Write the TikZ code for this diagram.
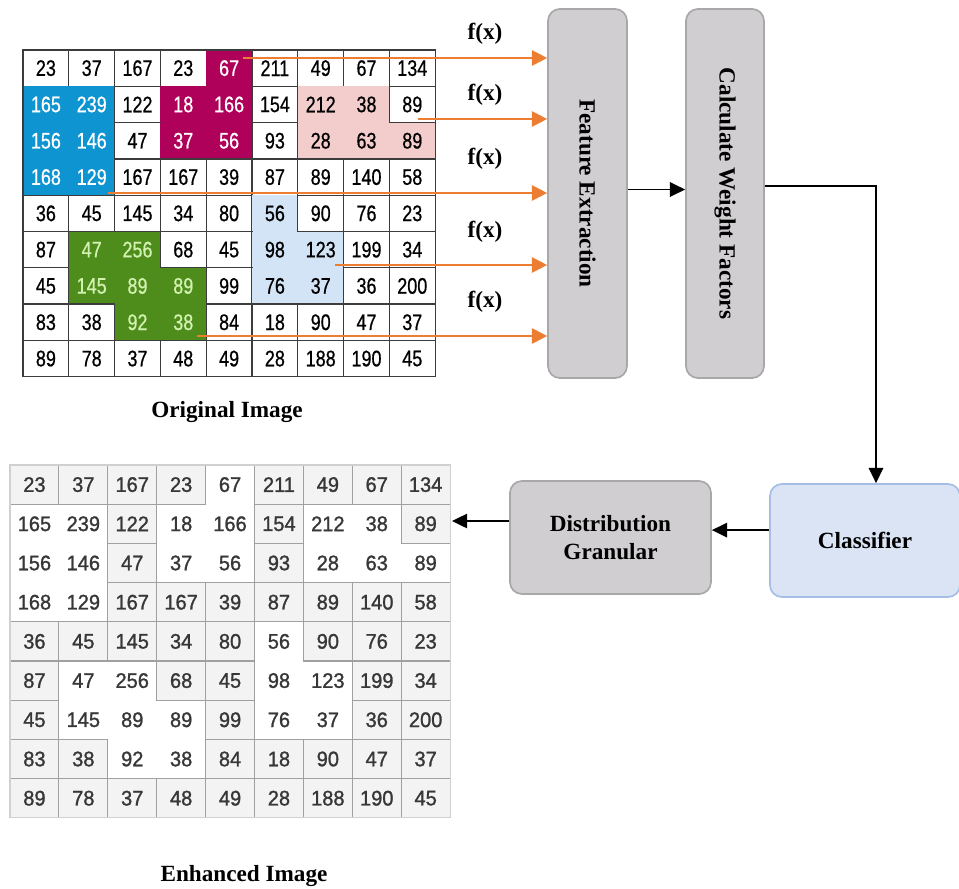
\documentclass[tikz,border=0pt]{standalone}
\usepackage{fontspec}
\setmainfont{Liberation Serif}
\newfontfamily\cellfont[FakeStretch=0.8,FakeBold=0.6]{Liberation Sans}
\newfontfamily\enhfont[FakeStretch=0.95,FakeBold=1.2]{Liberation Sans}
\usetikzlibrary{arrows.meta,calc}

\definecolor{gridline}{RGB}{60,60,60}
\definecolor{cellblue}{RGB}{14,148,208}
\definecolor{cellmag}{RGB}{175,0,90}
\definecolor{cellpink}{RGB}{243,204,204}
\definecolor{celllb}{RGB}{212,228,247}
\definecolor{cellgreen}{RGB}{78,140,28}
\definecolor{greentext}{RGB}{210,242,175}
\definecolor{enhline}{RGB}{160,160,160}
\definecolor{enhfill}{RGB}{243,243,243}
\definecolor{enhtext}{RGB}{55,55,55}
\definecolor{flow}{RGB}{237,125,49}
\definecolor{stagefill}{RGB}{208,206,208}
\definecolor{stageline}{RGB}{168,168,168}
\definecolor{clsfill}{RGB}{218,228,245}
\definecolor{clsline}{RGB}{165,190,230}

% pixel values / region code of each cell
\def\pixrows{{23/w,37/w,167/w,23/w,67/m,211/w,49/w,67/w,134/w},
{165/b,239/b,122/w,18/m,166/m,154/w,212/p,38/p,89/w},
{156/b,146/b,47/w,37/m,56/m,93/w,28/p,63/p,89/p},
{168/b,129/b,167/w,167/w,39/w,87/w,89/w,140/w,58/w},
{36/w,45/w,145/w,34/w,80/w,56/l,90/w,76/w,23/w},
{87/w,47/g,256/g,68/w,45/w,98/l,123/l,199/w,34/w},
{45/w,145/g,89/g,89/g,99/w,76/l,37/l,36/w,200/w},
{83/w,38/w,92/g,38/g,84/w,18/w,90/w,47/w,37/w},
{89/w,78/w,37/w,48/w,49/w,28/w,188/w,190/w,45/w}}

\tikzset{
	cell/.style={minimum width=1.145cm, minimum height=0.9075cm, inner sep=0pt, outer sep=0pt, font=\cellfont\fontsize{16}{16}\selectfont},
	cell w/.style={draw=gridline, line width=0.9pt},
	cell b/.style={fill=cellblue, text=white},
	cell m/.style={fill=cellmag, text=white},
	cell p/.style={fill=cellpink},
	cell l/.style={fill=celllb},
	cell g/.style={fill=cellgreen, text=greentext},
	ecell/.style={minimum width=1.2225cm, minimum height=0.98cm, inner sep=0pt, outer sep=0pt, text=enhtext, font=\enhfont\fontsize{15}{15}\selectfont},
	ecell w/.style={draw=enhline, fill=enhfill, line width=0.8pt},
	ecell b/.style={}, ecell m/.style={}, ecell p/.style={}, ecell l/.style={}, ecell g/.style={},
	stage/.style={draw=stageline, fill=stagefill, rounded corners=0.3cm, line width=1.2pt},
	lbl/.style={font=\bfseries\fontsize{16.5}{20}\selectfont},
	flowarr/.style={draw=flow, line width=1.5pt, -{Triangle[length=0.38cm,width=0.38cm]}},
	arr/.style={line width=1.3pt, -{Triangle[length=0.38cm,width=0.36cm]}}
}

\begin{document}
\begin{tikzpicture}[x=0.025cm, y=-0.025cm]
	\useasboundingbox (0,0) rectangle (959,888);
	
	%%%%% ORIGINAL IMAGE %%%%%
	\foreach \pixrow [count=\r from 0] in \pixrows {
		\foreach \v/\k [count=\c from 0] in \pixrow {
			\node[cell, cell \k] (o-\r-\c) at ({23+45.8*(\c+0.5)}, {50+36.3*(\r+0.5)}) {\v};
		}
	}
	\draw[gridline, line width=0.9pt] (o-0-0.north west) rectangle (o-8-8.south east);
	\node[lbl] (origlbl) at (227, 412) {Original Image};
	
	%%%%% ENHANCED IMAGE %%%%%
	\foreach \pixrow [count=\r from 0] in \pixrows {
		\foreach \v/\k [count=\c from 0] in \pixrow {
			\node[ecell, ecell \k] (e-\r-\c) at ({10+48.9*(\c+0.5)}, {465+39.2*(\r+0.5)}) {\v};
		}
	}
	\draw[enhline!50, line width=0.8pt] (e-0-0.north west) rectangle (e-8-8.south east);
	\node[lbl] (enhlbl) at (244, 876) {Enhanced Image};
	
	%%%%% STAGES %%%%%
	\node[stage, minimum width=1.975cm, minimum height=9.225cm] (fe) at (587.5, 193.5) {};
	\node[lbl, rotate=-90] (fetxt) at (fe.center) {Feature Extraction};
	\node[stage, minimum width=1.95cm, minimum height=9.225cm] (cwf) at (725, 193.5) {};
	\node[lbl, rotate=-90] (cwftxt) at (cwf.center) {Calculate Weight Factors};
	\node[stage, lbl, align=center, minimum width=5.025cm, minimum height=2.825cm] (dg) at (610.5, 537.5) {Distribution\\Granular};
	\node[stage, lbl, draw=clsline, fill=clsfill, minimum width=4.75cm, minimum height=2.825cm] (cls) at (865, 540.5) {Classifier};
	
	%%%%% FEATURES %%%%%
	\coordinate (src1) at (243, 58);
	\coordinate (src2) at (418, 119);
	\coordinate (src3) at (108, 193);
	\coordinate (src4) at (335, 265);
	\coordinate (src5) at (197, 336);
	\foreach \i/\y in {1/34, 2/95, 3/159, 4/232, 5/302} {
		\draw[flowarr] (src\i) -- (src\i -| fe.west);
		\node[lbl] (fx\i) at (485, \y) {f(x)};
	}
	
	%%%%% FLOW %%%%%
	\coordinate (feout) at ([yshift=0.1cm]fe.east);
	\draw[arr] (feout) -- (feout -| cwf.west);
	\draw[arr] ([yshift=0.19cm]cwf.east) -| ([xshift=0.275cm]cls.north);
	\coordinate (clsout) at ([yshift=0.26cm]cls.west);
	\draw[arr] (clsout) -- (clsout -| dg.east);
	\coordinate (enhin) at (452, 521);
	\draw[arr] (enhin -| dg.west) -- (enhin);
\end{tikzpicture}
\end{document}
